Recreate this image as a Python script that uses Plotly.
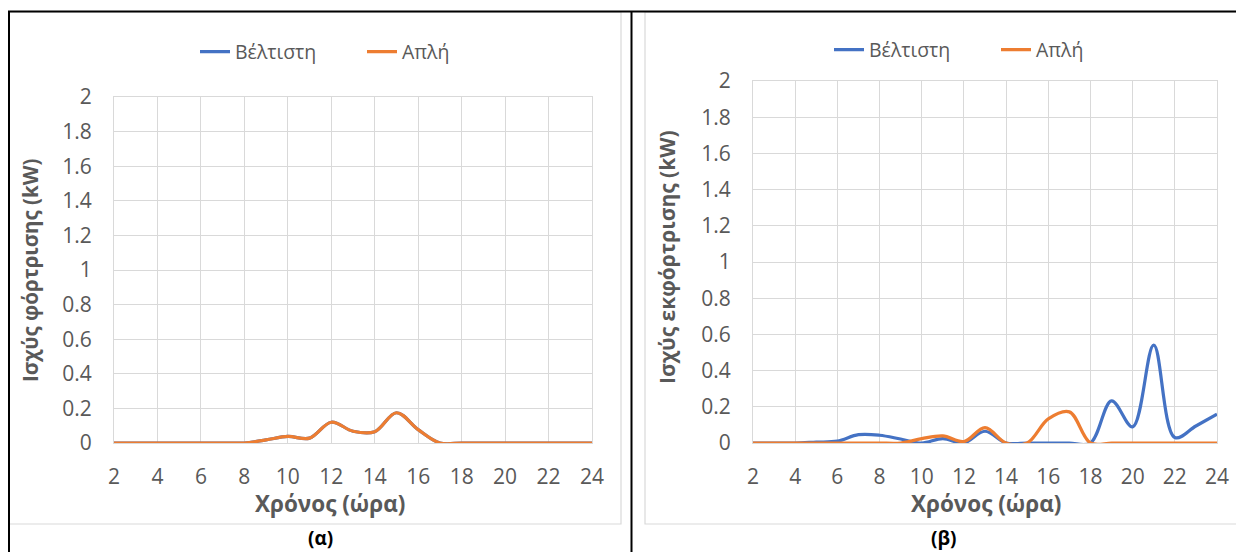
import plotly.graph_objects as go

# The page body has an 8px margin, so the figure covers screen pixels 8..1244 x 8..552
OFF = 8
W, H = 1244 - OFF, 552 - OFF

hours = [2, 3, 4, 5, 6, 7, 8, 9, 10, 11, 12, 13, 14, 15, 16, 17, 18, 19, 20, 21, 22, 23, 24]

# (α) charging power
a_best = [0, 0, 0, 0, 0, 0, 0, 0.018, 0.038, 0.028, 0.12, 0.068, 0.065, 0.175, 0.077, 0, 0, 0, 0, 0, 0, 0, 0]
a_simple = [0, 0, 0, 0, 0, 0, 0, 0.018, 0.038, 0.028, 0.12, 0.068, 0.065, 0.175, 0.077, 0, 0, 0, 0, 0, 0, 0, 0]

# (β) discharging power
b_best = [0, 0, 0, 0.005, 0.01, 0.046, 0.043, 0.022, 0, 0.024, 0, 0.065, 0, 0, 0, 0, 0, 0.233, 0.089, 0.541, 0.03, 0.094, 0.159]
b_simple = [0, 0, 0, 0, 0, 0, 0, 0, 0.024, 0.039, 0.008, 0.085, 0, 0, 0.133, 0.172, 0, 0, 0, 0, 0, 0, 0]

series_names = ["Βέλτιστη", "Απλή"]
colors = ["#4472C4", "#ED7D31"]
x_ticks = [2, 4, 6, 8, 10, 12, 14, 16, 18, 20, 22, 24]
y_ticks = [0, 0.2, 0.4, 0.6, 0.8, 1, 1.2, 1.4, 1.6, 1.8, 2]
y_ticktext = ["0", "0.2", "0.4", "0.6", "0.8", "1", "1.2", "1.4", "1.6", "1.8", "2"]

FONT = "Open Sans"
GRAY = "#595959"
GRID = "#D9D9D9"


def px(x):
    return (x - OFF) / W


def py(y):
    return 1 - (y - OFF) / H


fig = go.Figure()

for data, name, color in zip([a_best, a_simple], series_names, colors):
    fig.add_trace(go.Scatter(x=hours, y=data, name=name, mode="lines",
                             line=dict(color=color, width=3.2, shape="spline", smoothing=1),
                             xaxis="x", yaxis="y", legend="legend"))
for data, name, color in zip([b_best, b_simple], series_names, colors):
    fig.add_trace(go.Scatter(x=hours, y=data, name=name, mode="lines",
                             line=dict(color=color, width=3.2, shape="spline", smoothing=1),
                             xaxis="x2", yaxis="y2", legend="legend2"))

axis_common = dict(showgrid=True, gridcolor=GRID, gridwidth=1, zeroline=False,
                   showline=True, linecolor=GRID, linewidth=1, mirror=True,
                   tickfont=dict(family=FONT, size=21, color=GRAY), ticks="",
                   automargin=False)

legend_common = dict(orientation="h", xanchor="left", yanchor="middle",
                     font=dict(family=FONT, size=19.5, color=GRAY), bgcolor="rgba(0,0,0,0)",
                     entrywidth=122, entrywidthmode="pixels", tracegroupgap=0)

fig.update_layout(
    width=W, height=H, autosize=False,
    margin=dict(l=0, r=0, t=0, b=0, pad=0, autoexpand=False),
    paper_bgcolor="white", plot_bgcolor="white",
    font=dict(family=FONT, color=GRAY),
    xaxis=dict(domain=[px(114), px(592)], range=[2, 24], tickvals=x_ticks,
               anchor="y", ticklabelstandoff=15, **axis_common),
    yaxis=dict(domain=[py(443), py(97)], range=[0, 2], tickvals=y_ticks, ticktext=y_ticktext,
               anchor="x", ticklabelstandoff=17, **axis_common),
    xaxis2=dict(domain=[px(753), px(1217)], range=[2, 24], tickvals=x_ticks,
                anchor="y2", ticklabelstandoff=15, **axis_common),
    yaxis2=dict(domain=[py(443), py(81)], range=[0, 2], tickvals=y_ticks, ticktext=y_ticktext,
                anchor="x2", ticklabelstandoff=17, **axis_common),
    legend=dict(x=px(195), y=py(52), **legend_common),
    legend2=dict(x=px(829), y=py(50), **legend_common),
    showlegend=True,
)

# Axis titles and captions
annots = [
    dict(text="<b>Ισχύς φόρτρισης (kW)</b>", x=px(30), y=py(270), textangle=-90,
         font=dict(family=FONT, size=20.5, color=GRAY)),
    dict(text="<b>Ισχύς εκφόρτρισης (kW)</b>", x=px(667), y=py(257), textangle=-90,
         font=dict(family=FONT, size=21, color=GRAY)),
    dict(text="<b>Χρόνος (ώρα)</b>", x=px(330), y=py(503),
         font=dict(family=FONT, size=22.5, color=GRAY)),
    dict(text="<b>Χρόνος (ώρα)</b>", x=px(986), y=py(503),
         font=dict(family=FONT, size=22.5, color=GRAY)),
    dict(text="<b>(α)</b>", x=px(320), y=py(538),
         font=dict(family=FONT, size=19, color="black")),
    dict(text="<b>(β)</b>", x=px(943), y=py(538),
         font=dict(family=FONT, size=19, color="black")),
]
for a in annots:
    fig.add_annotation(xref="paper", yref="paper", showarrow=False,
                       xanchor="center", yanchor="middle", **a)

shapes = [
    # chart area borders
    dict(type="rect", x0=px(8.5), x1=px(621), y0=py(524), y1=py(12),
         line=dict(color=GRID, width=1.2), layer="below"),
    dict(type="rect", x0=px(645), x1=px(1241), y0=py(524), y1=py(12),
         line=dict(color=GRID, width=1.2), layer="below"),
    # table lines
    dict(type="line", x0=0, x1=1, y0=py(11.5), y1=py(11.5), line=dict(color="black", width=2)),
    dict(type="line", x0=px(9), x1=px(9), y0=py(11), y1=0, line=dict(color="black", width=2)),
    dict(type="line", x0=px(631.5), x1=px(631.5), y0=py(11), y1=0, line=dict(color="black", width=2)),
]
for s in shapes:
    fig.add_shape(xref="paper", yref="paper", **s)

fig.write_html("out.html")
